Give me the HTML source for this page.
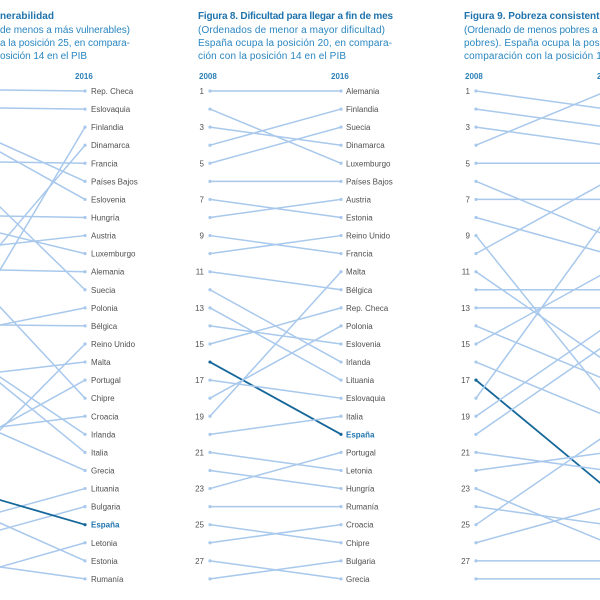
<!DOCTYPE html>
<html><head><meta charset="utf-8"><style>
html,body{margin:0;padding:0;background:#fff;width:600px;height:600px;overflow:hidden}
svg{display:block}
.t{font-family:"Liberation Sans",sans-serif;font-size:10px;fill:#2a86c0}
.tb{font-weight:bold;fill:#1f73ad}
.h{font-family:"Liberation Sans",sans-serif;font-size:8px;font-weight:bold;fill:#2a7fb8}
.c{font-family:"Liberation Sans",sans-serif;font-size:8px;fill:#505050}
.n{font-family:"Liberation Sans",sans-serif;font-size:8px;fill:#505050;text-anchor:end}
.e{font-weight:bold;fill:#1f73ad}
</style></head><body>
<svg id="s" width="600" height="600" xmlns="http://www.w3.org/2000/svg">
<text class="t tb" x="0" y="19" textLength="54">nerabilidad</text>
<text class="t" x="0" y="33" textLength="130">de menos a más vulnerables)</text>
<text class="t" x="0" y="46" textLength="130">a la posición 25, en compara-</text>
<text class="t" x="0" y="59" textLength="87">osición 14 en el PIB</text>
<text class="h" x="75" y="79">2016</text>

<text class="t tb" x="198" y="19" textLength="195">Figura 8. Dificultad para llegar a fin de mes</text>
<text class="t" x="198" y="33" textLength="187">(Ordenados de menor a mayor dificultad)</text>
<text class="t" x="198" y="46" textLength="194">España ocupa la posición 20, en compara-</text>
<text class="t" x="198" y="59" textLength="148">ción con la posición 14 en el PIB</text>
<text class="h" x="199" y="79">2008</text>
<text class="h" x="331" y="79">2016</text>

<text class="t tb" x="464" y="19" textLength="141">Figura 9. Pobreza consistente</text>
<text class="t" x="464" y="33" textLength="155">(Ordenado de menos pobres a más</text>
<text class="t" x="464" y="46" textLength="188">pobres). España ocupa la posición 23, en</text>
<text class="t" x="464" y="59" textLength="188">comparación con la posición 14 en el PIB</text>
<text class="h" x="465" y="79">2008</text>
<text class="h" x="597" y="79">2016</text>
<g id="g"></g>
</svg>
<script>
var g=document.getElementById('g'),NS="http://www.w3.org/2000/svg";
function Y(r){return 91+(r-1)*18.07;}
function el(t,a,txt){var e=document.createElementNS(NS,t);for(var k in a)e.setAttribute(k,a[k]);if(txt)e.textContent=txt;g.appendChild(e);return e;}
function line(x1,y1,x2,y2,dark){
 var c=dark?"#15679a":"#a8c8ec",w=dark?1.8:1.5;
 el('line',{x1:x1,y1:y1,x2:x2,y2:y2,stroke:c,'stroke-width':w});
 el('circle',{cx:x1,cy:y1,r:1.6,fill:c});el('circle',{cx:x2,cy:y2,r:1.6,fill:c});
}
var L=["Rep. Checa","Eslovaquia","Finlandia","Dinamarca","Francia","Países Bajos","Eslovenia","Hungría","Austria","Luxemburgo","Alemania","Suecia","Polonia","Bélgica","Reino Unido","Malta","Portugal","Chipre","Croacia","Irlanda","Italia","Grecia","Lituania","Bulgaria","España","Letonia","Estonia","Rumanía"];
var L0=[90,108,270,245,162,143,152,216,245,233,270,207,325,325,430,372,427,307,427,377,383,433,512,530,500,567,523,567];
for(var i=0;i<28;i++){var y=Y(i+1);var y0=L0[i];
 var ya=y+(y0-y)*(131/85);
 line(-46,ya,85,y,L[i]=="España");
 el('text',{x:91,y:y+3,'class':'c'+(L[i]=="España"?' e':'')},L[i]);}
var M=["Alemania","Finlandia","Suecia","Dinamarca","Luxemburgo","Países Bajos","Austria","Estonia","Reino Unido","Francia","Malta","Bélgica","Rep. Checa","Polonia","Eslovenia","Irlanda","Lituania","Eslovaquia","Italia","España","Portugal","Letonia","Hungría","Rumanía","Croacia","Chipre","Bulgaria","Grecia"];
var MM=[1,5,4,2,3,6,8,7,10,9,12,16,17,15,13,20,18,14,11,19,22,23,21,24,26,25,28,27];
for(var r=1;r<=28;r++){line(210,Y(r),341,Y(MM[r-1]),r==16);}
for(var i=0;i<28;i++){el('text',{x:346,y:Y(i+1)+3,'class':'c'+(M[i]=="España"?' e':'')},M[i]);}
for(var r=1;r<=28;r+=2){el('text',{x:204,y:Y(r)+3,'class':'n'},String(r));}
var R=[2,3,4,1,5,9,7,10,18,6,16,12,13,17,11,19,23,8,14,15,22,21,26,25,20,24,27,28];
for(var r=1;r<=28;r++){line(476,Y(r),607,Y(R[r-1]),r==17);}
for(var r=1;r<=28;r+=2){el('text',{x:470,y:Y(r)+3,'class':'n'},String(r));}
</script>
</body></html>
